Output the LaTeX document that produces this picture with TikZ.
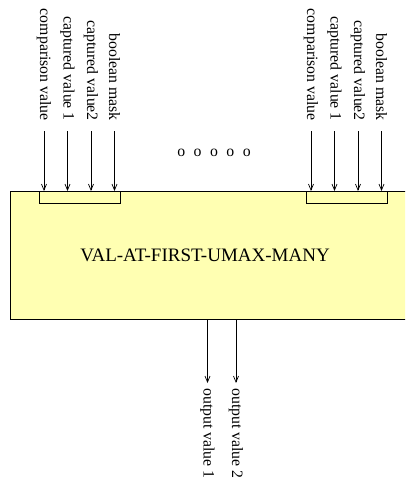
\documentclass[tikz,border=0pt]{standalone}
\usepackage{fontspec}
\setmainfont{Liberation Serif}
\usetikzlibrary{arrows.meta}
\definecolor{boxfill}{RGB}{255,255,178}
\tikzset{
  lbl/.style={inner sep=0pt, font=\fontsize{15.8}{18}\selectfont},
  inlbl/.style={lbl, rotate=-90, anchor=east},
  outlbl/.style={lbl, rotate=-90, anchor=west},
  sig/.style={draw=black, line width=0.7pt, -{Straight Barb[length=6pt,width=5pt,line width=0.7pt]}},
  frame/.style={draw=black, line width=0.9pt},
}
\begin{document}
\begin{tikzpicture}[x=1pt,y=-1pt]
  \useasboundingbox (0,0) rectangle (405,482);
  \clip (0,0) rectangle (405,482);

  % main block (runs past the right edge)
  \node[frame, fill=boxfill, anchor=north west, minimum width=420pt,
        minimum height=128pt, inner sep=0pt] (blk) at (10,191) {};
  \node[font=\fontsize{19}{22}\selectfont] (title) at (205,255) {VAL-AT-FIRST-UMAX-MANY};

  % input groups
  \draw[frame] (39,191) -- (39,203) -- (120,203) -- (120,191);
  \draw[frame] (306,191) -- (306,203) -- (387,203) -- (387,191);

  \foreach \n/\x/\t in {a/44/comparison value, b/67.5/captured value 1,
                        c/91/captured value2, d/114.5/boolean mask,
                        e/311/comparison value, f/334.5/captured value 1,
                        g/358/captured value2, h/381.5/boolean mask} {
    \node[inlbl] (l\n) at (\x,121) {\t};
    \coordinate (s\n) at (\x,131);
    \coordinate (t\n) at (\x,191);
    \draw[sig] (s\n) -- (t\n);
  }

  \node[lbl] (dots) at (214,153)
    {o\hspace{8.5pt}o\hspace{8.5pt}o\hspace{8.5pt}o\hspace{8.5pt}o};

  % outputs
  \foreach \n/\x/\t in {p/207.5/output value 1, q/236/output value 2} {
    \coordinate (o\n) at (\x,319);
    \coordinate (e\n) at (\x,383);
    \draw[sig] (o\n) -- (e\n);
    \node[outlbl] (l\n) at (\x,388) {\t};
  }
\end{tikzpicture}
\end{document}
